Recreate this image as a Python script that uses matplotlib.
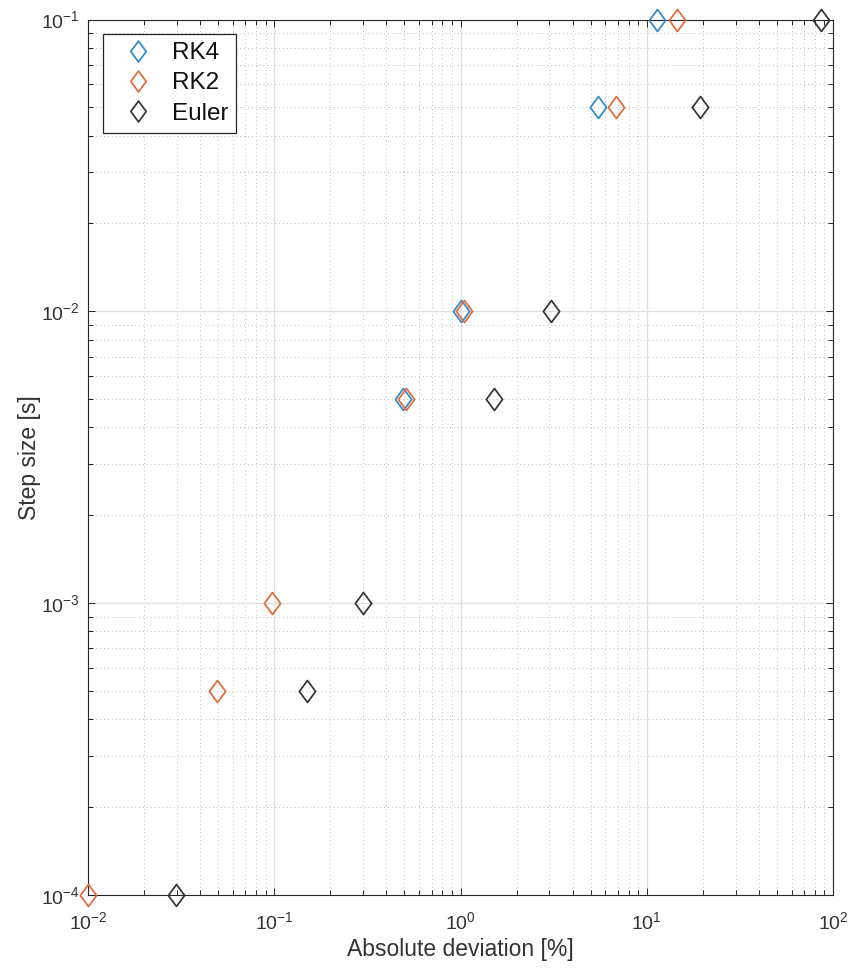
import matplotlib
matplotlib.use("Agg")
import matplotlib.pyplot as plt
from matplotlib.path import Path
from matplotlib.ticker import LogLocator, NullFormatter
import numpy as np

plt.rcParams['font.family'] = ['Liberation Sans', 'DejaVu Sans']
plt.rcParams['mathtext.fontset'] = 'custom'
plt.rcParams['mathtext.rm'] = 'Liberation Sans'
plt.rcParams['mathtext.it'] = 'Liberation Sans:italic'
plt.rcParams['mathtext.default'] = 'regular'

# Step sizes and absolute deviations for each integration scheme
rk4_step = [0.1, 0.05, 0.01, 0.005]
rk4_dev = [11.3, 5.5, 1.0, 0.49]

rk2_step = [0.1, 0.05, 0.01, 0.005, 0.001, 0.0005, 0.0001]
rk2_dev = [14.6, 6.8, 1.05, 0.51, 0.097, 0.049, 0.01]

euler_step = [0.1, 0.05, 0.01, 0.005, 0.001, 0.0005, 0.0001]
euler_dev = [86.0, 19.4, 3.08, 1.51, 0.298, 0.149, 0.0297]

series = [
    ("RK4", rk4_dev, rk4_step, "#2f8bcc"),
    ("RK2", rk2_dev, rk2_step, "#e06b3a"),
    ("Euler", euler_dev, euler_step, "#333333"),
]

text_color = '#333333'

# Tall diamond marker
w = 0.74
diamond = Path([(0, 1), (w, 0), (0, -1), (-w, 0), (0, 1)],
               [Path.MOVETO, Path.LINETO, Path.LINETO, Path.LINETO, Path.CLOSEPOLY])

fig = plt.figure(figsize=(8.52, 9.69), dpi=100)
ax = fig.add_axes([88 / 852, 1 - 895 / 969, (833 - 88) / 852, (895 - 19.5) / 969])

for name, x, y, c in series:
    ax.plot(x, y, linestyle='none', marker=diamond, markersize=15.8,
            markerfacecolor='none', markeredgecolor=c, markeredgewidth=1.25,
            label=name, clip_on=False, zorder=5)

ax.set_xscale('log')
ax.set_yscale('log')
ax.set_xlim(1e-2, 1e2)
ax.set_ylim(1e-4, 1e-1)

ax.xaxis.set_major_locator(LogLocator(base=10, numticks=10))
ax.yaxis.set_major_locator(LogLocator(base=10, numticks=10))
ax.xaxis.set_minor_locator(LogLocator(base=10, subs=np.arange(2, 10), numticks=20))
ax.yaxis.set_minor_locator(LogLocator(base=10, subs=np.arange(2, 10), numticks=20))
ax.xaxis.set_minor_formatter(NullFormatter())
ax.yaxis.set_minor_formatter(NullFormatter())

ax.grid(True, which='major', color='#dedede', linestyle='-', linewidth=0.9)
ax.grid(True, which='minor', color='#bdbdbd', linestyle=(0, (1, 3)), linewidth=0.7)
ax.set_axisbelow(True)

for s in ax.spines.values():
    s.set_color('#262626')
    s.set_linewidth(0.8)

ax.tick_params(which='both', direction='in', top=True, right=True,
               color='#262626', width=0.7)
ax.tick_params(which='major', length=5, labelsize=14, labelcolor=text_color)
ax.tick_params(axis='x', which='major', pad=12)
ax.tick_params(axis='y', which='major', pad=6)
ax.tick_params(which='minor', length=3.5)

ax.set_xlabel('Absolute deviation [%]', fontsize=16.5, color=text_color, labelpad=3)
ax.set_ylabel('Step size [s]', fontsize=16.5, color=text_color, labelpad=0)

leg = ax.legend(loc='upper left', bbox_to_anchor=(15 / 745, 1 - 14.5 / 875.5), fontsize=17.5,
                fancybox=False, framealpha=1, edgecolor='#262626',
                handlelength=2.2, handletextpad=0.3, borderpad=0.33,
                labelspacing=0.34, borderaxespad=0)
leg.get_frame().set_linewidth(0.9)
for t in leg.get_texts():
    t.set_color('#111111')
for h in leg.legend_handles:
    h.set_markersize(15)

fig.savefig('out.png', dpi=100, facecolor='white')
